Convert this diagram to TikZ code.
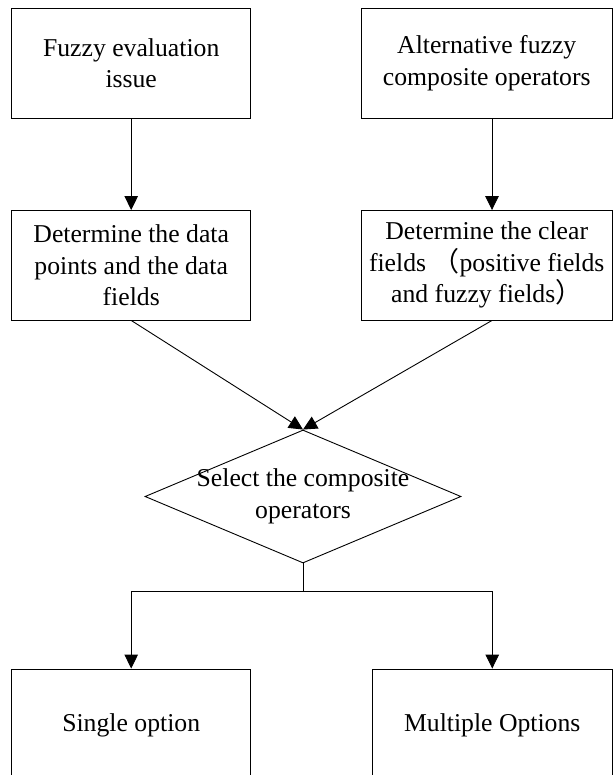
\documentclass[tikz,border=0pt]{standalone}
\usepackage{fontspec}
\setmainfont{Liberation Serif}
\newfontfamily\cjk{Noto Sans CJK SC}
\usetikzlibrary{arrows.meta,shapes.geometric}
\newcommand\boxfont{\fontsize{25.7}{31.5}\selectfont}
\newcommand\cjkparen[1]{{\cjk\fontsize{27}{31.5}\selectfont #1}}
\begin{document}
\begin{tikzpicture}[x=1pt,y=-1pt,
  box/.style={draw, line width=0.9pt, inner sep=0pt, align=center, font=\boxfont},
  arr/.style={draw, line width=0.9pt, -{Triangle[width=13.5pt,length=14pt]}},
  ln/.style={draw, line width=0.9pt}]
\clip (0,0) rectangle (614,775);
\fill[white] (0,0) rectangle (614,775);
% top row
\node[box, minimum width=239pt, minimum height=109.7pt] (tl) at (131.2,63.2) {Fuzzy evaluation\\issue};
\node[box, minimum width=251.5pt, minimum height=109.7pt] (tr) at (486.75,63.2) {Alternative fuzzy\\composite operators};
% middle row
\node[box, minimum width=239pt, minimum height=109.5pt] (ml) at (131.2,265.25) {Determine the data\\points and the data\\fields};
\node[box, minimum width=251.5pt, minimum height=109.5pt] (mr) at (486.75,265.25) {Determine the clear\\fields \cjkparen{（}positive fields\\and fuzzy fields\cjkparen{）}};
% diamond
\node[draw, line width=0.9pt, diamond, inner sep=0pt, minimum width=316pt, minimum height=133pt] (d) at (303,496.5) {};
\node[font=\boxfont, align=center, inner sep=0pt] (dt) at (d.center) {Select the composite\\operators};
% bottom row
\node[box, minimum width=239pt, minimum height=112pt] (bl) at (131.2,725) {Single option};
\node[box, minimum width=240.5pt, minimum height=112pt] (br) at (492.25,725) {Multiple Options};
\coordinate (j) at (303,591);
% connectors
\draw[arr] (tl.south) -- (ml.north);
\draw[arr] ([xshift=5.25pt]tr.south) -- ([xshift=5.25pt]mr.north);
\draw[arr] (ml.south) -- (d.north);
\draw[arr] ([xshift=5.25pt]mr.south) -- (d.north);
\draw[ln] (d.south) -- (j);
\draw[arr] (j) -| (bl.north);
\draw[arr] (j) -| (br.north);
\end{tikzpicture}
\end{document}
